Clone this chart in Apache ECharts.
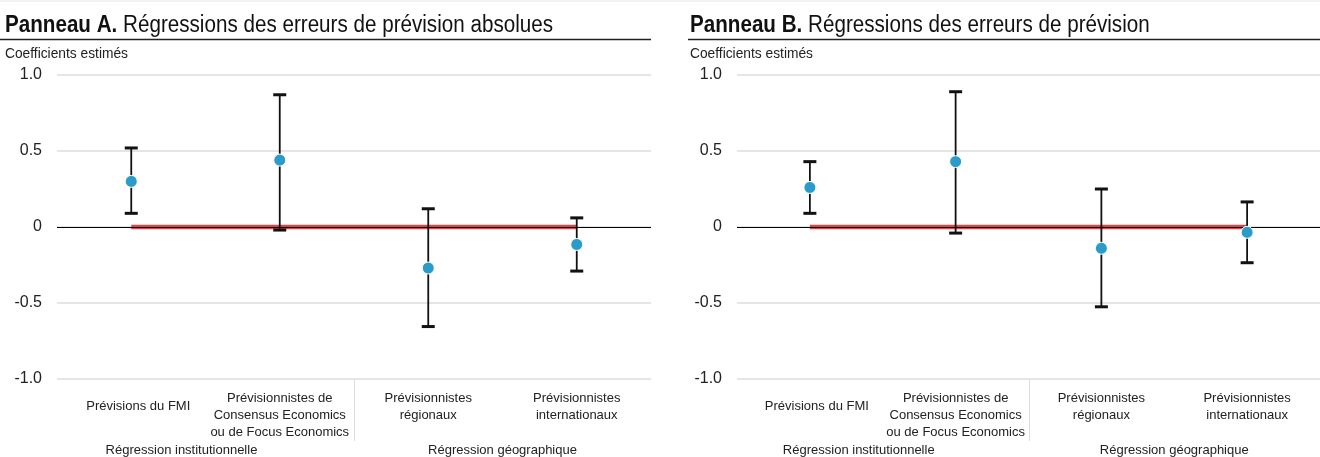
<!DOCTYPE html>
<html>
<head>
<meta charset="utf-8">
<script src="https://cdn.jsdelivr.net/npm/echarts@6/dist/echarts.min.js"></script>
<style>
  html, body { margin: 0; padding: 0; background: #fff; }
  #chart { width: 1320px; height: 457px; }
</style>
</head>
<body>
<div id="chart"></div>
<script>
// Categories (x axis) and regression groups
const categories = [
  'Prévisions du FMI',
  'Prévisionnistes de\nConsensus Economics\nou de Focus Economics',
  'Prévisionnistes\nrégionaux',
  'Prévisionnistes\ninternationaux'
];
const groups = ['Régression institutionnelle', 'Régression géographique'];

// Panel A: absolute forecast error regressions
const coefA  = [0.30, 0.44, -0.27, -0.115];
const upperA = [0.52, 0.87, 0.12, 0.06];
const lowerA = [0.09, -0.02, -0.655, -0.29];

// Panel B: forecast error regressions
const coefB  = [0.26, 0.43, -0.14, -0.035];
const upperB = [0.43, 0.89, 0.25, 0.165];
const lowerB = [0.09, -0.04, -0.525, -0.235];

// Reference (zero) line across the categories
const zeroRef = [0, 0, 0, 0];

// Value axis range
const yMin = -1, yMax = 1, yStep = 0.5;

const titles = [
  { bold: 'Panneau A.', rest: ' Régressions des erreurs de prévision absolues' },
  { bold: 'Panneau B.', rest: ' Régressions des erreurs de prévision' }
];
const yAxisName = 'Coefficients estimés';

const FONT = 'Liberation Sans, Arial, sans-serif';
const BLUE = '#2b9bca';
const RED = '#d7262b';

const grids = [
  { left: 57, top: 75, width: 594, height: 304 },
  { left: 737, top: 75, width: 594, height: 304 }
];

function catAxis(gi) {
  return {
    type: 'category', gridIndex: gi, data: categories.map((c, i) => {
      if (i === 0) return { value: c, textStyle: { padding: [8, 0, 0, 14] } };
      return c;
    }),
    boundaryGap: true,
    axisLine: { show: false }, axisTick: { show: false },
    axisLabel: { interval: 0, color: '#222', fontFamily: FONT, fontSize: 13, lineHeight: 17, margin: 11, verticalAlign: 'top' }
  };
}
function groupAxis(gi) {
  return {
    type: 'category', gridIndex: gi, position: 'bottom', offset: 60,
    data: groups.map((g, i) => i === 0 ? { value: g, textStyle: { padding: [0, 48, 0, 0] } } : g),
    boundaryGap: true,
    axisLine: { show: false }, axisTick: { show: false },
    axisLabel: { interval: 0, color: '#222', fontFamily: FONT, fontSize: 13, margin: 5, verticalAlign: 'top' }
  };
}
function valAxis(gi) {
  return {
    type: 'value', gridIndex: gi, min: yMin, max: yMax, interval: yStep,
    axisLine: { show: false }, axisTick: { show: false },
    axisLabel: {
      color: '#222', fontFamily: FONT, fontSize: 16, margin: 15,
      formatter: v => v === 0 ? '0' : v.toFixed(1)
    },
    splitLine: { lineStyle: { color: '#dcdcdc', width: 1.5 } }
  };
}

function errorBars(gi, upper, lower) {
  return {
    type: 'custom', xAxisIndex: gi * 2, yAxisIndex: gi, z: 3,
    data: upper.map((u, i) => [i, u, lower[i]]),
    encode: { x: 0, y: [1, 2] },
    renderItem: (params, api) => {
      const i = api.value(0);
      const hi = api.coord([i, api.value(1)]);
      const lo = api.coord([i, api.value(2)]);
      const cap = 6.5;
      return {
        type: 'group', children: [
          { type: 'line', shape: { x1: hi[0], y1: hi[1], x2: lo[0], y2: lo[1] }, style: { stroke: '#111', lineWidth: 1.8 } },
          { type: 'line', shape: { x1: hi[0] - cap, y1: hi[1], x2: hi[0] + cap, y2: hi[1] }, style: { stroke: '#111', lineWidth: 3 } },
          { type: 'line', shape: { x1: lo[0] - cap, y1: lo[1], x2: lo[0] + cap, y2: lo[1] }, style: { stroke: '#111', lineWidth: 3 } }
        ]
      };
    }
  };
}
function zeroLine(gi) {
  return {
    type: 'line', xAxisIndex: gi * 2, yAxisIndex: gi, z: 2,
    data: zeroRef, symbol: 'none', silent: true,
    lineStyle: { color: RED, width: 4.5, opacity: 0.85 },
    markLine: {
      silent: true, symbol: 'none', label: { show: false },
      lineStyle: { color: '#000', width: 1.2, type: 'solid' },
      data: [{ yAxis: 0 }]
    }
  };
}
function dots(gi, coef) {
  return {
    type: 'scatter', xAxisIndex: gi * 2, yAxisIndex: gi, z: 5,
    data: coef, symbolSize: 12,
    itemStyle: { color: BLUE, borderColor: '#fff', borderWidth: 1, opacity: 1 }
  };
}

const chart = echarts.init(document.getElementById('chart'), null, { renderer: 'canvas' });

chart.setOption({
  animation: false,
  backgroundColor: '#fff',
  grid: grids,
  xAxis: [catAxis(0), groupAxis(0), catAxis(1), groupAxis(1)],
  yAxis: [valAxis(0), valAxis(1)],
  series: [
    zeroLine(0), errorBars(0, upperA, lowerA), dots(0, coefA),
    zeroLine(1), errorBars(1, upperB, lowerB), dots(1, coefB)
  ]
});

// Condensed look for the panel titles: measure and squeeze the text horizontally
const ctx = document.createElement('canvas').getContext('2d');
function textWidth(font, s) { ctx.font = font; return ctx.measureText(s).width; }
const TITLE_SIZE = 23;
const titleFullWidth = textWidth('bold ' + TITLE_SIZE + 'px Liberation Sans', titles[0].bold) +
  textWidth(TITLE_SIZE + 'px Liberation Sans', titles[0].rest);
const titleScale = 548 / titleFullWidth;
const NAME_SIZE = 14;
const nameScale = 123 / textWidth(NAME_SIZE + 'px Liberation Sans', yAxisName);

const panelX = [5, 690];
function titleText(i) {
  return {
    type: 'text', x: panelX[i], y: 25.5, scaleX: titleScale, z: 10,
    style: {
      text: '{b|' + titles[i].bold + '}{r|' + titles[i].rest + '}',
      verticalAlign: 'middle', align: 'left',
      rich: {
        b: { fontFamily: 'Liberation Sans', fontWeight: 'bold', fontSize: TITLE_SIZE, fill: '#111' },
        r: { fontFamily: 'Liberation Sans', fontWeight: 'normal', fontSize: TITLE_SIZE, fill: '#111' }
      }
    }
  };
}
function nameText(i) {
  return {
    type: 'text', x: panelX[i], y: 54, scaleX: nameScale, z: 10,
    style: {
      text: yAxisName, fontFamily: 'Liberation Sans', fontSize: NAME_SIZE,
      fill: '#222', verticalAlign: 'middle', align: 'left'
    }
  };
}

// Separator between the two regression groups, at the band boundary
function separatorX(gi) {
  const a = chart.convertToPixel({ xAxisIndex: gi * 2 }, 1);
  const b = chart.convertToPixel({ xAxisIndex: gi * 2 }, 2);
  return Math.round((a + b) / 2) + 0.5;
}
const bottom = grids[0].top + grids[0].height;
chart.setOption({
  graphic: [
    { type: 'line', shape: { x1: 0, y1: 1, x2: 1320, y2: 1 }, style: { stroke: '#eeeeee', lineWidth: 1.5 } },
    titleText(0), titleText(1), nameText(0), nameText(1),
    { type: 'line', shape: { x1: 0, y1: 39.5, x2: 651, y2: 39.5 }, style: { stroke: '#222', lineWidth: 1.5 } },
    { type: 'line', shape: { x1: 688, y1: 39.5, x2: 1320, y2: 39.5 }, style: { stroke: '#222', lineWidth: 1.5 } },
    { type: 'line', shape: { x1: separatorX(0), y1: bottom + 1, x2: separatorX(0), y2: bottom + 62 }, style: { stroke: '#dddddd', lineWidth: 1 } },
    { type: 'line', shape: { x1: separatorX(1), y1: bottom + 1, x2: separatorX(1), y2: bottom + 62 }, style: { stroke: '#dddddd', lineWidth: 1 } }
  ]
});
</script>
</body>
</html>
